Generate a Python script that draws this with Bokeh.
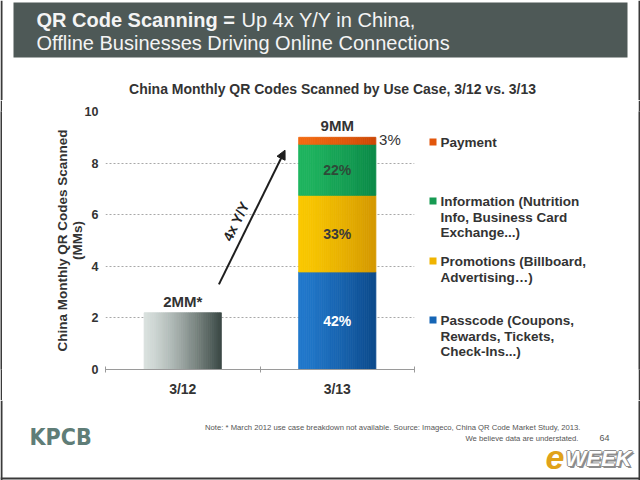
import math
import numpy as np
from bokeh.plotting import figure
from bokeh.layouts import column, row
from bokeh.models import Label, Arrow, NormalHead, FixedTicker, Range1d, Span
from bokeh.embed import file_html
from bokeh.resources import INLINE

# ---- data -------------------------------------------------------------
periods = ["3/12", "3/13"]
total_2012 = 2.2          # MM scans, no use-case breakdown
total_2013 = 9.0          # MM scans
use_cases = ["Passcode", "Promotions", "Information", "Payment"]
shares_2013 = [42, 33, 22, 3]   # % of 3/13 total, bottom to top
y_ticks = [0, 2, 4, 6, 8, 10]

legend_order = ["Payment", "Information", "Promotions", "Passcode"]
legend_lines = {
    "Payment": ["Payment"],
    "Information": ["Information (Nutrition", "Info, Business Card", "Exchange...)"],
    "Promotions": ["Promotions (Billboard,", "Advertising…)"],
    "Passcode": ["Passcode (Coupons,", "Rewards, Tickets,", "Check-Ins...)"],
}

# ---- styling ----------------------------------------------------------
FONT = "Liberation Sans"
TXT = "#333333"
EDGE = "#3a3a3a"
seg_grad = {
    "Passcode": ("#2279cc", "#0c4a8c"),
    "Promotions": ("#fac800", "#d49800"),
    "Information": ("#20b560", "#0b8a48"),
    "Payment": ("#f26a12", "#cc4806"),
}
seg_key = {"Passcode": "#1565b5", "Promotions": "#f0b400", "Information": "#169a52", "Payment": "#e2560c"}
seg_label_color = {"Passcode": "white", "Promotions": "#3a3a3a", "Information": "#2e4a38"}
bar_2012_grad = ("#d8e0dd", "#3c4a46")


def mix(c1, c2, t):
    a = [int(c1[i:i + 2], 16) for i in (1, 3, 5)]
    b = [int(c2[i:i + 2], 16) for i in (1, 3, 5)]
    t = t ** 1.3   # keep the darker tone mostly on the right side
    return "#%02x%02x%02x" % tuple(round(x + (y - x) * t) for x, y in zip(a, b))


def canvas(w, h, x0=0, y0=0, **borders):
    """Axis-free panel; data units are page pixels (y downwards), offset by (x0, y0)."""
    bt, bb = borders.get("top", 0), borders.get("bottom", 0)
    f = figure(width=w, height=h, x_range=Range1d(x0, x0 + w), y_range=Range1d(y0 + h - bb, y0 + bt),
               output_backend="svg", toolbar_location=None, min_border=0,
               min_border_top=bt, min_border_bottom=bb,
               x_axis_location=None, y_axis_location=None)
    f.grid.visible = False
    f.outline_line_color = None
    f.background_fill_color = "white"
    f.border_fill_color = "white"
    return f


def strip(w, h):
    """Thin dark panel used for the slide's side edges."""
    f = figure(width=w, height=h, output_backend="svg", toolbar_location=None, min_border=0,
               x_axis_location=None, y_axis_location=None)
    f.grid.visible = False
    f.outline_line_color = None
    f.background_fill_color = EDGE
    f.border_fill_color = EDGE
    return f


def label(f, x, y, text, size, color=TXT, style="normal", align="left", baseline="middle", font=FONT):
    f.add_layout(Label(x=x, y=y, text=text, text_font_size=size, text_color=color,
                       text_font_style=style, text_align=align, text_baseline=baseline,
                       text_font=font))


# ---- header: slide title + chart title -------------------------------
head = canvas(640, 100)
head.quad(left=[13], right=[627], top=[2], bottom=[57], fill_color="#4e5957", line_color=None)
label(head, 36, 19, "QR Code Scanning =", "20px", "#f4f4f4", "bold")
label(head, 241, 19, "Up 4x Y/Y in China,", "20px", "#f4f4f4")
label(head, 36, 42, "Offline Businesses Driving Online Connections", "20px", "#f4f4f4")
label(head, 332, 88, "China Monthly QR Codes Scanned by Use Case, 3/12 vs. 3/13", "14px", TXT, "bold",
      align="center")
head.add_layout(Span(location=1, dimension="height", line_color=EDGE, line_width=2))
head.add_layout(Span(location=639, dimension="height", line_color=EDGE, line_width=2))

# ---- chart --------------------------------------------------------------
BAR_W = 0.5
N_STRIPS = 40

p = figure(width=418, height=300, x_range=Range1d(-0.5, 1.5), y_range=Range1d(0, 10),
           output_backend="svg", toolbar_location=None,
           min_border_left=103, min_border_right=6, min_border_top=11, min_border_bottom=31)
p.outline_line_color = None
p.background_fill_color = "white"
p.border_fill_color = "white"

p.xaxis.ticker = FixedTicker(ticks=[0, 1], minor_ticks=[-0.5, 0.5, 1.5])
p.xaxis.major_label_overrides = {0: periods[0], 1: periods[1]}
p.xaxis.major_tick_line_color = None
p.xaxis.major_tick_in = 0
p.xaxis.major_tick_out = 0
p.xaxis.minor_tick_in = 3
p.xaxis.minor_tick_out = 3
p.xaxis.minor_tick_line_color = "#9a9a9a"
p.xaxis.axis_line_color = "#9a9a9a"
p.xaxis.major_label_text_font = FONT
p.xaxis.major_label_text_font_style = "bold"
p.xaxis.major_label_text_font_size = "14px"
p.xaxis.major_label_text_color = TXT
p.xaxis.major_label_standoff = 8

p.yaxis.ticker = FixedTicker(ticks=y_ticks)
p.yaxis.axis_line_color = None
p.yaxis.major_tick_line_color = None
p.yaxis.major_tick_in = 0
p.yaxis.major_tick_out = 0
p.yaxis.minor_tick_line_color = None
p.yaxis.major_label_text_font = FONT
p.yaxis.major_label_text_font_style = "bold"
p.yaxis.major_label_text_font_size = "12.5px"
p.yaxis.major_label_text_color = TXT
p.yaxis.major_label_standoff = 7
p.yaxis.axis_label = "China Monthly QR Codes Scanned\n(MMs)"
p.yaxis.axis_label_text_font = FONT
p.yaxis.axis_label_text_font_style = "bold"
p.yaxis.axis_label_text_font_size = "13.5px"
p.yaxis.axis_label_text_color = TXT
p.yaxis.axis_label_text_line_height = 0.98
p.yaxis.axis_label_standoff = -3

p.xgrid.visible = False
p.ygrid.grid_line_color = "#a8a8a8"
p.ygrid.grid_line_dash = "2 2"


def gradient_bar(xc, bottom, top, c_left, c_right):
    edges = np.linspace(xc - BAR_W / 2, xc + BAR_W / 2, N_STRIPS + 1)
    cols = [mix(c_left, c_right, k / (N_STRIPS - 1)) for k in range(N_STRIPS)]
    p.quad(left=edges[:-1], right=edges[1:], bottom=[bottom] * N_STRIPS, top=[top] * N_STRIPS,
           fill_color=cols, line_color=cols, line_width=0.8)


# 3/12 bar
gradient_bar(0, 0, total_2012, *bar_2012_grad)
p.add_layout(Label(x=0, y=total_2012, y_offset=3, text=f"{round(total_2012)}MM*", text_align="center",
                   text_baseline="bottom", text_font=FONT, text_font_style="bold",
                   text_font_size="15px", text_color=TXT))

# 3/13 stacked bar
bottom = 0.0
for name, share in zip(use_cases, shares_2013):
    h = total_2013 * share / 100
    gradient_bar(1, bottom, bottom + h, *seg_grad[name])
    mid = bottom + h / 2
    if name == "Payment":
        p.add_layout(Label(x=1 + BAR_W / 2, y=mid, x_offset=14, y_offset=1, text=f"{share}%",
                           text_align="center", text_baseline="middle", text_font=FONT,
                           text_font_size="15px", text_color=TXT))
    else:
        p.add_layout(Label(x=1, y=mid, text=f"{share}%", text_align="center", text_baseline="middle",
                           text_font=FONT, text_font_style="bold", text_font_size="14px",
                           text_color=seg_label_color[name]))
    bottom += h
p.add_layout(Label(x=1, y=total_2013, y_offset=3, text=f"{round(total_2013)}MM", text_align="center",
                   text_baseline="bottom", text_font=FONT, text_font_style="bold",
                   text_font_size="15px", text_color=TXT))

# growth arrow between the two bars
xs, ys = BAR_W / 2 - 0.016, total_2012 + 1.1
xe, ye = 1 - BAR_W / 2 - 0.088, total_2013 - 0.5
p.add_layout(Arrow(x_start=xs, y_start=ys, x_end=xe, y_end=ye, line_width=2, line_color="#1e1e1e",
                   end=NormalHead(size=9, fill_color="#1e1e1e", line_color="#1e1e1e")))
px_per_x = 309 / 2.0
px_per_y = 258 / 10.0
ang = math.atan2((ye - ys) * px_per_y, (xe - xs) * px_per_x)
p.add_layout(Label(x=(xs + xe) / 2, y=(ys + ye) / 2, x_offset=-16, y_offset=-4,
                   text=f"{round(total_2013 / total_2012)}x Y/Y", angle=ang, text_align="center",
                   text_baseline="middle", text_font=FONT, text_font_style="bold",
                   text_font_size="14px", text_color="#222222"))

# ---- legend (frame lines up with the chart frame) ------------------------
leg = canvas(218, 300, x0=420, y0=100, top=11, bottom=31)
legend_top = {"Payment": 142, "Information": 201, "Promotions": 261, "Passcode": 320}
for name in legend_order:
    y0 = legend_top[name]
    leg.quad(left=[429], right=[436], top=[y0 - 4], bottom=[y0 + 3], fill_color=seg_key[name],
             line_color=None)
    for k, line in enumerate(legend_lines[name]):
        label(leg, 440, y0 + k * 15.7, line, "13.5px", TXT, "bold")

# ---- footer -------------------------------------------------------------
foot = canvas(640, 80)
label(foot, 29, 36, "KPCB", "23px", "#5f7d77", "bold",
      font="Liberation Sans Narrow, DejaVu Sans Condensed, Liberation Sans")
label(foot, 580, 27, "Note: * March 2012 use case breakdown not available. Source: Imageco, China QR Code Market Study, 2013.",
      "7.7px", "#555555", align="right")
label(foot, 578, 38, "We believe data are understated.", "7.7px", "#555555", align="right")
label(foot, 604, 37, "64", "9px", "#555555", align="center")
label(foot, 545, 57, "e", "34px", "#e0a21a", "bold italic")
for dx, dy in [(-1, 0), (1, 0), (0, -1), (0, 1), (1, 1), (2, 2)]:
    label(foot, 565 + dx, 58 + dy, "WEEK", "22px", "#8c8c8c", "bold italic")
label(foot, 565, 58, "WEEK", "22px", "#ffffff", "bold italic")
foot.add_layout(Span(location=1, dimension="height", line_color=EDGE, line_width=2))
foot.add_layout(Span(location=639, dimension="height", line_color=EDGE, line_width=2))
foot.add_layout(Span(location=78, dimension="width", line_color=EDGE, line_width=2))

page = column(head, row(strip(2, 300), p, leg, strip(2, 300)), foot)
open("out.html", "w").write(file_html(page, INLINE))
